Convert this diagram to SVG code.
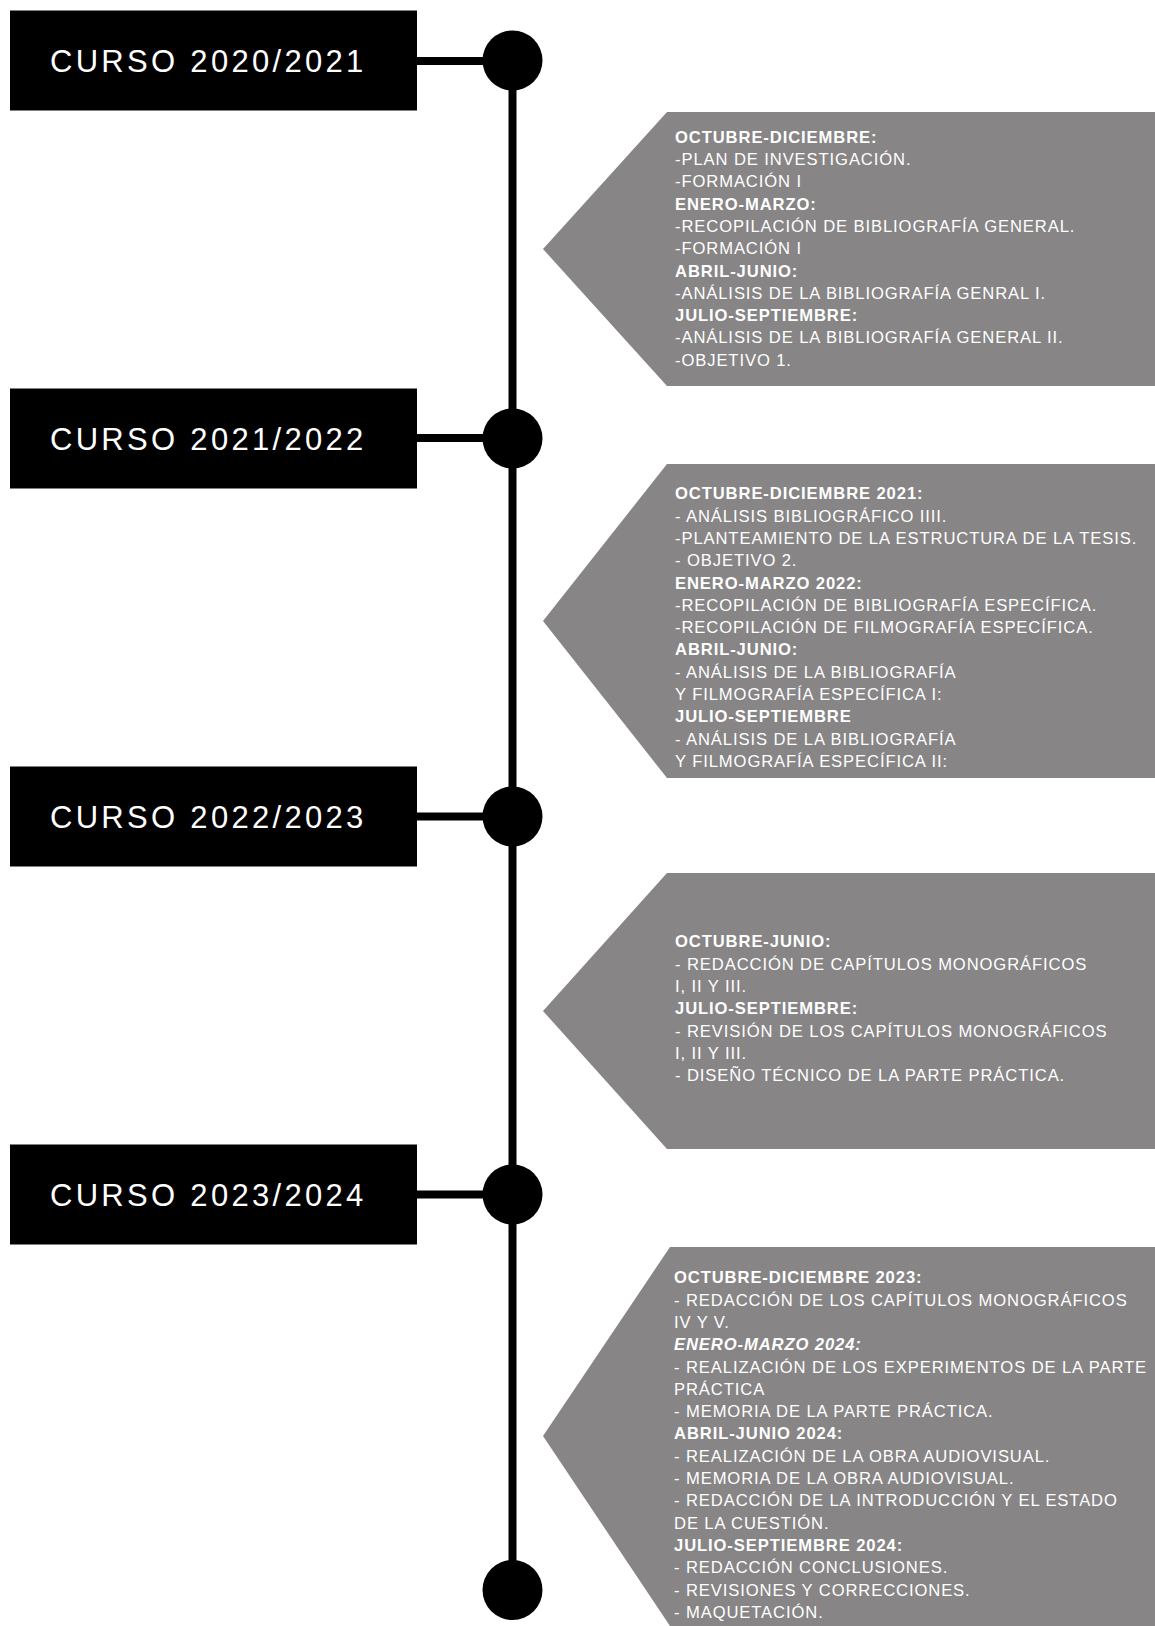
<svg xmlns="http://www.w3.org/2000/svg" width="1155" height="1626" viewBox="0 0 1155 1626">
<defs>
<style>
.box{fill:#000}
.dot{fill:#000}
.conn{stroke:#000;stroke-width:8;fill:none}
.panel{fill:#878586}
.curso{font-family:"Liberation Sans",Arial,sans-serif;font-size:31px;letter-spacing:3.3px;fill:#fff}
.body{font-family:"Liberation Sans",Arial,sans-serif;font-size:16.6px;letter-spacing:0.9px;fill:#fff}
.h{font-weight:bold}
.hi{font-weight:bold;font-style:italic}
</style>
</defs>
<rect width="1155" height="1626" fill="#fff"/>

<g id="connectors">
<line class="conn" x1="512.5" y1="60.5" x2="512.5" y2="1590"/>
<line class="conn" x1="417" y1="61" x2="490" y2="61"/>
<line class="conn" x1="417" y1="438" x2="490" y2="438"/>
<line class="conn" x1="417" y1="816.5" x2="490" y2="816.5"/>
<line class="conn" x1="417" y1="1194.5" x2="490" y2="1194.5"/>
</g>

<g id="curso-2020">
<rect class="box" x="10" y="10.5" width="407" height="100"/>
<text class="curso" x="50" y="72">CURSO 2020/2021</text>
</g>
<g id="curso-2021">
<rect class="box" x="10" y="388.5" width="407" height="100"/>
<text class="curso" x="50" y="450">CURSO 2021/2022</text>
</g>
<g id="curso-2022">
<rect class="box" x="10" y="766.5" width="407" height="100"/>
<text class="curso" x="50" y="828">CURSO 2022/2023</text>
</g>
<g id="curso-2023">
<rect class="box" x="10" y="1144.5" width="407" height="100"/>
<text class="curso" x="50" y="1206">CURSO 2023/2024</text>
</g>

<g id="dot-1"><circle class="dot" cx="512.5" cy="60.5" r="30"/></g>
<g id="dot-2"><circle class="dot" cx="512.5" cy="438.5" r="30"/></g>
<g id="dot-3"><circle class="dot" cx="512.5" cy="816.5" r="30"/></g>
<g id="dot-4"><circle class="dot" cx="512.5" cy="1194.5" r="30"/></g>
<g id="dot-end"><circle class="dot" cx="512.5" cy="1590" r="30"/></g>

<g id="panel-2020">
<polygon class="panel" points="667,112 1155,112 1155,386 667,386 543,249"/>
<text class="body" x="675" y="142.7">
<tspan class="h" x="675" y="142.7">OCTUBRE-DICIEMBRE:</tspan>
<tspan x="675" dy="22.3">-PLAN DE INVESTIGACIÓN.</tspan>
<tspan x="675" dy="22.3">-FORMACIÓN I</tspan>
<tspan class="h" x="675" dy="22.3">ENERO-MARZO:</tspan>
<tspan x="675" dy="22.3">-RECOPILACIÓN DE BIBLIOGRAFÍA GENERAL.</tspan>
<tspan x="675" dy="22.3">-FORMACIÓN I</tspan>
<tspan class="h" x="675" dy="22.3">ABRIL-JUNIO:</tspan>
<tspan x="675" dy="22.3">-ANÁLISIS DE LA BIBLIOGRAFÍA  GENRAL I.</tspan>
<tspan class="h" x="675" dy="22.3">JULIO-SEPTIEMBRE:</tspan>
<tspan x="675" dy="22.3">-ANÁLISIS DE LA BIBLIOGRAFÍA GENERAL II.</tspan>
<tspan x="675" dy="22.3">-OBJETIVO 1.</tspan>
</text>
</g>

<g id="panel-2021">
<polygon class="panel" points="667,464 1155,464 1155,778 667,778 543,621"/>
<text class="body" x="675" y="499.3">
<tspan class="h" x="675" y="499.3">OCTUBRE-DICIEMBRE 2021:</tspan>
<tspan x="675" dy="22.3">- ANÁLISIS BIBLIOGRÁFICO IIII.</tspan>
<tspan x="675" dy="22.3">-PLANTEAMIENTO DE LA ESTRUCTURA DE LA TESIS.</tspan>
<tspan x="675" dy="22.3">- OBJETIVO 2.</tspan>
<tspan class="h" x="675" dy="22.3">ENERO-MARZO 2022:</tspan>
<tspan x="675" dy="22.3">-RECOPILACIÓN DE BIBLIOGRAFÍA ESPECÍFICA.</tspan>
<tspan x="675" dy="22.3">-RECOPILACIÓN DE FILMOGRAFÍA ESPECÍFICA.</tspan>
<tspan class="h" x="675" dy="22.3">ABRIL-JUNIO:</tspan>
<tspan x="675" dy="22.3">- ANÁLISIS DE LA BIBLIOGRAFÍA</tspan>
<tspan x="675" dy="22.3">Y FILMOGRAFÍA ESPECÍFICA I:</tspan>
<tspan class="h" x="675" dy="22.3">JULIO-SEPTIEMBRE</tspan>
<tspan x="675" dy="22.3">- ANÁLISIS DE LA BIBLIOGRAFÍA</tspan>
<tspan x="675" dy="22.3">Y FILMOGRAFÍA ESPECÍFICA II:</tspan>
</text>
</g>

<g id="panel-2022">
<polygon class="panel" points="667,873 1155,873 1155,1149 667,1149 543,1011"/>
<text class="body" x="675" y="947.3">
<tspan class="h" x="675" y="947.3">OCTUBRE-JUNIO:</tspan>
<tspan x="675" dy="22.3">- REDACCIÓN DE CAPÍTULOS MONOGRÁFICOS</tspan>
<tspan x="675" dy="22.3">I, II Y III.</tspan>
<tspan class="h" x="675" dy="22.3">JULIO-SEPTIEMBRE:</tspan>
<tspan x="675" dy="22.3">- REVISIÓN DE LOS CAPÍTULOS MONOGRÁFICOS</tspan>
<tspan x="675" dy="22.3">I, II Y III.</tspan>
<tspan x="675" dy="22.3">- DISEÑO TÉCNICO DE LA PARTE PRÁCTICA.</tspan>
</text>
</g>

<g id="panel-2023">
<polygon class="panel" points="670,1247 1155,1247 1155,1626 670,1626 543,1436"/>
<text class="body" x="674" y="1283.3">
<tspan class="h" x="674" y="1283.3">OCTUBRE-DICIEMBRE 2023:</tspan>
<tspan x="674" dy="22.3">- REDACCIÓN DE LOS CAPÍTULOS MONOGRÁFICOS</tspan>
<tspan x="674" dy="22.3">IV Y V.</tspan>
<tspan class="hi" x="674" dy="22.3">ENERO-MARZO 2024:</tspan>
<tspan x="674" dy="22.3">- REALIZACIÓN DE LOS EXPERIMENTOS DE LA PARTE</tspan>
<tspan x="674" dy="22.3">PRÁCTICA</tspan>
<tspan x="674" dy="22.3">- MEMORIA DE LA PARTE PRÁCTICA.</tspan>
<tspan class="h" x="674" dy="22.3">ABRIL-JUNIO 2024:</tspan>
<tspan x="674" dy="22.3">- REALIZACIÓN DE LA OBRA AUDIOVISUAL.</tspan>
<tspan x="674" dy="22.3">- MEMORIA DE LA OBRA AUDIOVISUAL.</tspan>
<tspan x="674" dy="22.3">- REDACCIÓN DE LA INTRODUCCIÓN Y EL ESTADO</tspan>
<tspan x="674" dy="22.3">DE LA CUESTIÓN.</tspan>
<tspan class="h" x="674" dy="22.3">JULIO-SEPTIEMBRE 2024:</tspan>
<tspan x="674" dy="22.3">- REDACCIÓN CONCLUSIONES.</tspan>
<tspan x="674" dy="22.3">- REVISIONES Y CORRECCIONES.</tspan>
<tspan x="674" dy="22.3">- MAQUETACIÓN.</tspan>
</text>
</g>
</svg>
